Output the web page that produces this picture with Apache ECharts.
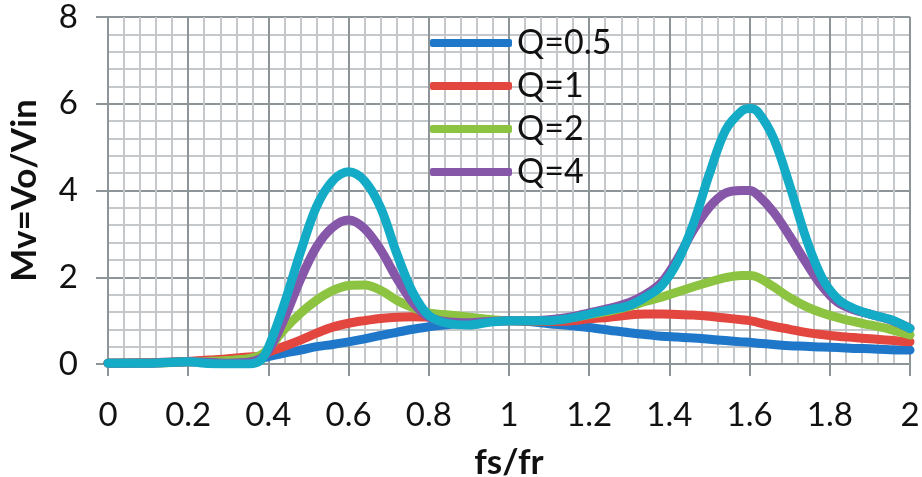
<!DOCTYPE html>
<html><head><meta charset="utf-8">
<script src="https://cdn.jsdelivr.net/npm/echarts@6/dist/echarts.min.js"></script>
<style>html,body{margin:0;padding:0;background:#fff}#c{width:922px;height:477px}</style>
</head><body><div id="c"></div>
<script>
const xValues = [0,0.1,0.2,0.25,0.3,0.35,0.38,0.4,0.44,0.48,0.52,0.56,0.6,0.64,0.68,0.72,0.76,0.8,0.85,0.9,0.95,1.0,1.05,1.1,1.15,1.2,1.25,1.3,1.34,1.38,1.42,1.46,1.5,1.54,1.58,1.6,1.62,1.66,1.7,1.74,1.78,1.82,1.86,1.9,1.95,2.0];
const q05 = [0.02,0.03,0.05,0.07,0.09,0.11,0.13,0.17,0.25,0.32,0.4,0.45,0.51,0.58,0.66,0.73,0.8,0.86,0.91,0.95,0.98,1.0,0.98,0.93,0.89,0.84,0.78,0.72,0.68,0.64,0.62,0.6,0.57,0.54,0.51,0.5,0.48,0.45,0.42,0.41,0.39,0.38,0.36,0.35,0.33,0.32];
const q1 = [0.02,0.03,0.06,0.09,0.12,0.16,0.18,0.27,0.41,0.55,0.71,0.85,0.94,1.0,1.05,1.08,1.09,1.08,1.06,1.03,1.01,1.0,0.99,0.98,0.99,1.04,1.08,1.13,1.15,1.15,1.14,1.13,1.1,1.06,1.02,1.0,0.96,0.87,0.8,0.73,0.68,0.64,0.61,0.58,0.55,0.51];
const q2 = [0.02,0.02,0.05,0.06,0.08,0.12,0.2,0.35,0.8,1.17,1.47,1.69,1.81,1.82,1.7,1.47,1.3,1.18,1.13,1.08,1.03,1.0,1.0,1.01,1.06,1.14,1.22,1.33,1.44,1.54,1.66,1.78,1.89,1.99,2.04,2.04,2.0,1.78,1.53,1.33,1.18,1.07,0.98,0.9,0.8,0.67];
const q4 = [0.02,0.02,0.05,0.04,0.02,0.04,0.12,0.3,1.05,1.95,2.7,3.15,3.32,3.12,2.63,1.98,1.42,1.08,0.97,0.95,0.98,1.0,1.0,1.02,1.08,1.18,1.28,1.42,1.6,1.88,2.42,3.09,3.62,3.94,4.0,4.0,3.9,3.5,2.95,2.35,1.8,1.42,1.25,1.15,1.02,0.82];
const q8 = [0.02,0.02,0.05,0.01,0.0,0.0,0.08,0.38,1.4,2.58,3.63,4.22,4.43,4.22,3.6,2.55,1.65,1.12,0.93,0.9,0.96,1.0,1.0,1.0,1.05,1.15,1.25,1.35,1.54,1.8,2.35,3.24,4.39,5.39,5.83,5.89,5.82,5.2,4.12,2.92,2.0,1.5,1.28,1.15,1.03,0.82];
const seriesNames = ['Q=0.5','Q=1','Q=2','Q=4','Q=8'];
const legendNames = ['Q=0.5','Q=1','Q=2','Q=4'];
const xTicks = [0,0.2,0.4,0.6,0.8,1,1.2,1.4,1.6,1.8,2];
const yTicks = [0,2,4,6,8];

const colors = ['#1f77c9','#e2463f','#8cc442','#8656a8','#14abc6'];
const seriesData = [q05,q1,q2,q4,q8];
const FONT = 'Lato';

const chart = echarts.init(document.getElementById('c'), null, {renderer:'canvas'});
const majorLine = {show:true, lineStyle:{color:'#8e9598', width:2}};
const minorLine = {show:true, lineStyle:{color:'#c4c8ca', width:2}};
chart.setOption({
  animation:false,
  backgroundColor:'#fff',
  grid:{left:108, right:12, top:17, bottom:113, containLabel:false, outerBoundsMode:'none'},
  legend:{
    data:legendNames, orient:'vertical', left:425, top:20,
    itemWidth:82, itemHeight:8, itemGap:7, icon:'roundRect',
    textStyle:{fontFamily:FONT, fontSize:34, color:'#111', lineHeight:36}
  },
  xAxis:{
    type:'value', min:xTicks[0], max:xTicks[xTicks.length-1], interval:0.2,
    name:'fs/fr', nameLocation:'middle', nameGap:81,
    nameTextStyle:{fontFamily:FONT, fontSize:35, fontWeight:'bold', color:'#111'},
    axisLine:{show:true, lineStyle:{color:'#8e9598', width:2}},
    axisTick:{show:true, inside:false, length:12, lineStyle:{color:'#8e9598', width:2}},
    axisLabel:{fontFamily:FONT, fontSize:33, color:'#111', margin:35,
      formatter:v=>String(Math.round(v*10)/10)},
    splitLine:majorLine,
    minorTick:{show:false, splitNumber:5},
    minorSplitLine:minorLine
  },
  yAxis:{
    type:'value', min:yTicks[0], max:yTicks[yTicks.length-1], interval:2,
    name:'Mv=Vo/Vin', nameLocation:'middle', nameGap:66, nameRotate:90,
    nameTextStyle:{fontFamily:FONT, fontSize:35, fontWeight:'bold', color:'#111'},
    axisLine:{show:true, lineStyle:{color:'#8e9598', width:2}},
    axisTick:{show:true, inside:false, length:12, lineStyle:{color:'#8e9598', width:2}},
    axisLabel:{fontFamily:FONT, fontSize:33, color:'#111', margin:30},
    splitLine:majorLine,
    minorTick:{show:false, splitNumber:5},
    minorSplitLine:minorLine
  },
  series: seriesNames.map((n,i)=>({
    name:n, type:'line', smooth:0.35, symbol:'none',
    data: xValues.map((x,k)=>[x, seriesData[i][k]]),
    lineStyle:{color:colors[i], width:9, cap:'round', join:'round'},
    itemStyle:{color:colors[i]},
    z: 2+i
  }))
});
</script>
</body></html>
